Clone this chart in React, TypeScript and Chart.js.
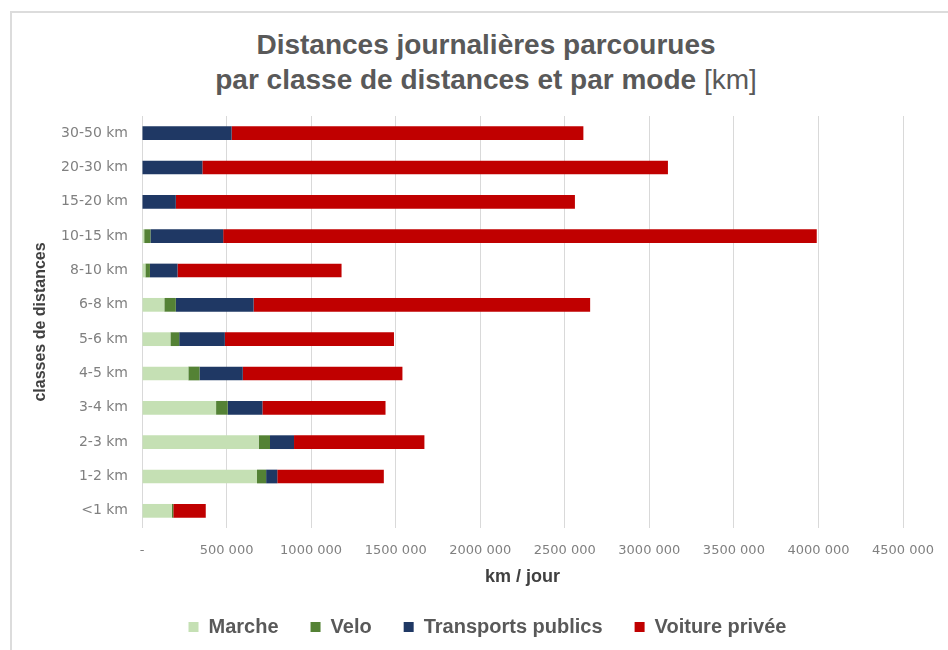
import React, { useEffect, useRef } from "react";
import { Chart, registerables } from "chart.js";

Chart.register(...registerables);

const categories = ["30-50 km", "20-30 km", "15-20 km", "10-15 km", "8-10 km", "6-8 km", "5-6 km", "4-5 km", "3-4 km", "2-3 km", "1-2 km", "<1 km"];
const marche = [0, 0, 0, 13000, 20000, 132000, 168000, 274000, 438000, 690000, 680000, 177000];
const velo = [0, 0, 0, 37000, 27000, 68000, 52000, 66000, 69000, 67000, 54000, 8000];
const transportsPublics = [530000, 357000, 200000, 430000, 163000, 460000, 270000, 256000, 205000, 142000, 66000, 0];
const voiturePrivee = [2080000, 2753000, 2360000, 3510000, 970000, 1990000, 1000000, 944000, 728000, 771000, 630000, 192000];
const xTickLabels = ["-", "500 000", "1000 000", "1500 000", "2000 000", "2500 000", "3000 000", "3500 000", "4000 000", "4500 000"];

const seriesNames = ["Marche", "Velo", "Transports publics", "Voiture privée"];
const seriesColors = ["#c5e0b4", "#548235", "#1f3864", "#c00000"];

const legendShift = {
  id: "legendShift",
  afterLayout(chart: any) {
    const l = chart.legend;
    if (l) {
      l.left += 30;
      l.right += 30;
      l.top -= 3;
      l.bottom -= 3;
    }
  },
};

export default function App() {
  const ref = useRef<HTMLCanvasElement | null>(null);

  useEffect(() => {
    if (!ref.current) return;
    const values = [marche, velo, transportsPublics, voiturePrivee];
    const chart = new Chart(ref.current, {
      type: "bar",
      data: {
        labels: categories,
        datasets: values.map((v, i) => ({
          label: seriesNames[i],
          data: v,
          backgroundColor: seriesColors[i],
          borderWidth: 0,
          barPercentage: 0.4,
          categoryPercentage: 1,
        })),
      },
      plugins: [legendShift],
      options: {
        indexAxis: "y",
        responsive: false,
        animation: false,
        layout: { padding: { top: 103, left: 0, right: 59, bottom: 0 } },
        plugins: {
          title: { display: false },
          tooltip: { enabled: false },
          legend: {
            position: "bottom",
            labels: {
              boxWidth: 10,
              boxHeight: 10,
              padding: 32,
              color: "#595959",
              font: { family: "'Liberation Sans', Arial, sans-serif", size: 20, weight: "bold" },
            },
          },
        },
        scales: {
          x: {
            stacked: true,
            min: 0,
            max: 4500000,
            afterFit: (s: any) => { s.height = 60; },
            ticks: {
              stepSize: 500000,
              padding: 15,
              color: "#808080",
              font: { family: "'DejaVu Sans', sans-serif", size: 13 },
              callback: (_v: any, i: number) => xTickLabels[i],
            },
            grid: { color: "#d9d9d9", drawTicks: false, lineWidth: 1 },
            border: { display: false },
            title: {
              display: true,
              text: "km / jour",
              color: "#404040",
              padding: { top: 0, bottom: 0 },
              font: { family: "'Liberation Sans', Arial, sans-serif", size: 18, weight: "bold" },
            },
          },
          y: {
            stacked: true,
            afterFit: (s: any) => { s.width = 130; },
            ticks: {
              padding: 14,
              color: "#808080",
              font: { family: "'DejaVu Sans', sans-serif", size: 14 },
            },
            grid: { display: false, drawTicks: false },
            border: { display: false },
            title: {
              display: true,
              text: "classes de distances",
              color: "#404040",
              padding: { top: 19, bottom: 0 },
              font: { family: "'Liberation Sans', Arial, sans-serif", size: 16, weight: "bold" },
            },
          },
        },
      },
    });
    return () => chart.destroy();
  }, []);

  return (
    <div style={{ position: "fixed", left: 0, top: 0, width: 948, height: 650, overflow: "hidden", background: "#fff" }}>
      <div
        style={{
          position: "absolute",
          left: 10,
          top: 11,
          width: 1000,
          height: 700,
          borderTop: "2px solid #dcdcdc",
          borderLeft: "2px solid #dcdcdc",
        }}
      />
      <div
        style={{
          position: "absolute",
          left: 10,
          top: 27,
          width: 952,
          textAlign: "center",
          fontFamily: "'Liberation Sans', Arial, sans-serif",
          fontSize: 28,
          lineHeight: "35px",
          fontWeight: "bold",
          color: "#595959",
        }}
      >
        <div>Distances journalières parcourues</div>
        <div>
          par classe de distances et par mode <span style={{ fontWeight: "normal" }}>[km]</span>
        </div>
      </div>
      <canvas ref={ref} width={950} height={637} style={{ position: "absolute", left: 12, top: 13, width: 950, height: 637 }} />
    </div>
  );
}
